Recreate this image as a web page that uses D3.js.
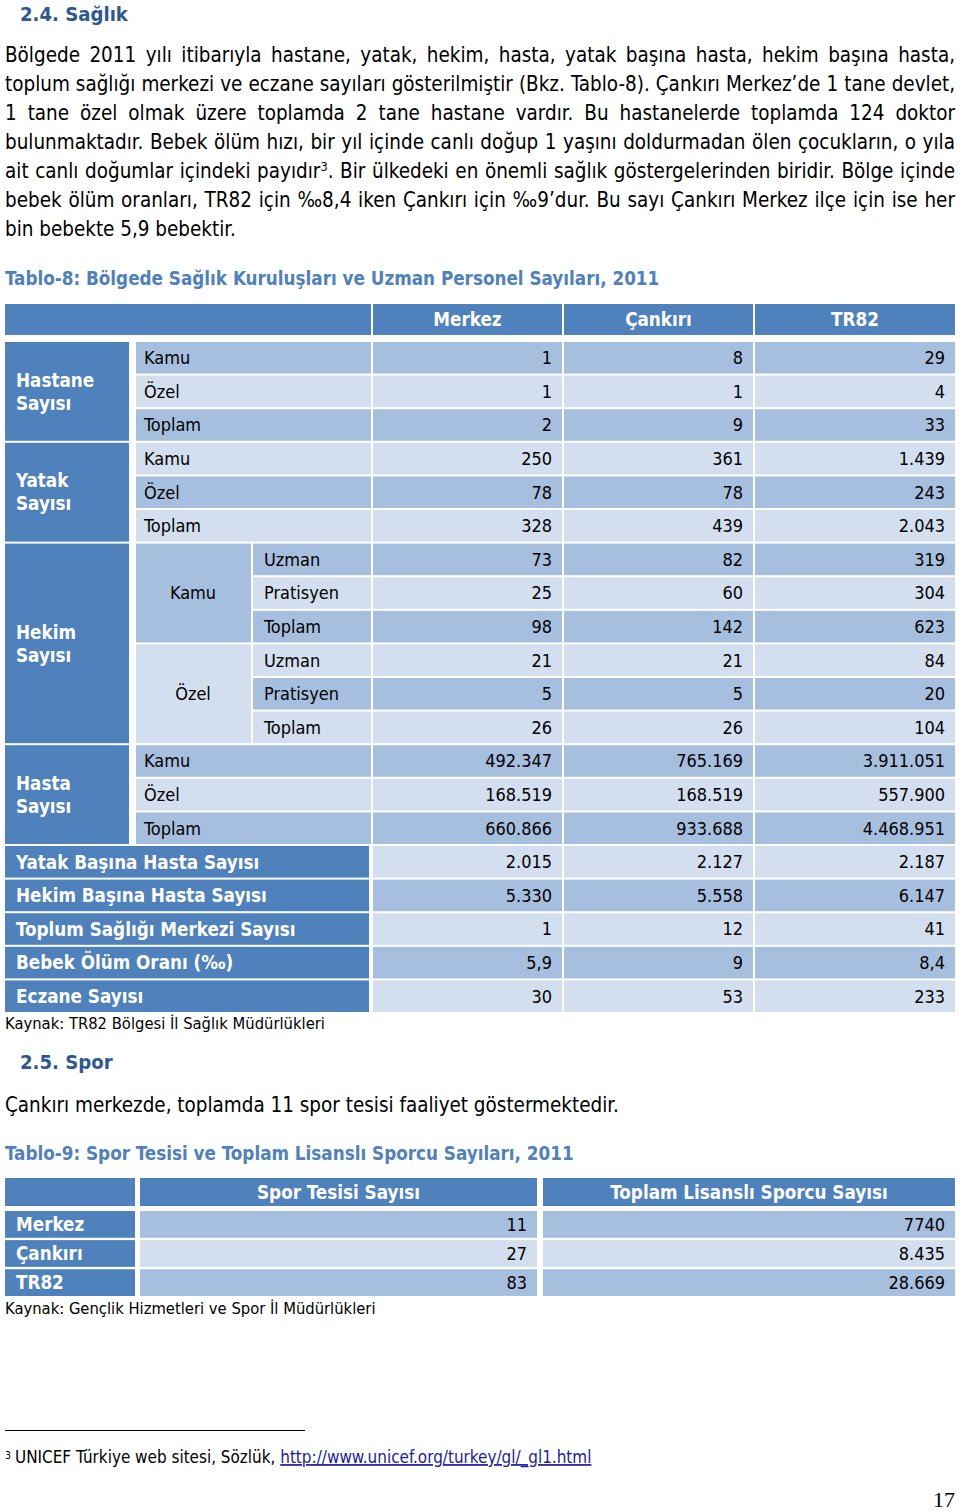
<!DOCTYPE html>
<html>
<head>
<meta charset="utf-8">
<script src="https://cdn.jsdelivr.net/npm/d3@7"></script>
<style>
    body { margin: 0; background: #fff; }
    svg { display: block; }
</style>
</head>
<body>
<script>
// ---- texts ----
const headingSaglik = "2.4. Sağlık";
const paragraphLines = [
    "Bölgede 2011 yılı itibarıyla hastane, yatak, hekim, hasta, yatak başına hasta, hekim başına hasta,",
    "toplum sağlığı merkezi ve eczane sayıları gösterilmiştir (Bkz. Tablo-8). Çankırı Merkez’de 1 tane devlet,",
    "1 tane özel olmak üzere toplamda 2 tane hastane vardır. Bu hastanelerde toplamda 124 doktor",
    "bulunmaktadır. Bebek ölüm hızı, bir yıl içinde canlı doğup 1 yaşını doldurmadan ölen çocukların, o yıla",
    "ait canlı doğumlar içindeki payıdır|3|. Bir ülkedeki en önemli sağlık göstergelerinden biridir. Bölge içinde",
    "bebek ölüm oranları, TR82 için ‰8,4 iken Çankırı için ‰9’dur. Bu sayı Çankırı Merkez ilçe için ise her",
    "bin bebekte 5,9 bebektir."
];
const tablo8Caption = "Tablo-8: Bölgede Sağlık Kuruluşları ve Uzman Personel Sayıları, 2011";
const tablo8Source = "Kaynak: TR82 Bölgesi İl Sağlık Müdürlükleri";
const headingSpor = "2.5. Spor";
const sporSentence = "Çankırı merkezde, toplamda 11 spor tesisi faaliyet göstermektedir.";
const tablo9Caption = "Tablo-9: Spor Tesisi ve Toplam Lisanslı Sporcu Sayıları, 2011";
const tablo9Source = "Kaynak: Gençlik Hizmetleri ve Spor İl Müdürlükleri";
const footnoteText = "UNICEF Türkiye web sitesi, Sözlük, ";
const footnoteLink = "http://www.unicef.org/turkey/gl/_gl1.html";
const pageNumber = "17";

// ---- Tablo-8 data ----
const tablo8Columns = ["Merkez", "Çankırı", "TR82"];
const tablo8RowLabels = [
    "Kamu", "Özel", "Toplam",
    "Kamu", "Özel", "Toplam",
    "Uzman", "Pratisyen", "Toplam", "Uzman", "Pratisyen", "Toplam",
    "Kamu", "Özel", "Toplam",
    "Yatak Başına Hasta Sayısı", "Hekim Başına Hasta Sayısı", "Toplum Sağlığı Merkezi Sayısı",
    "Bebek Ölüm Oranı (‰)", "Eczane Sayısı"
];
const merkezValues = ["1", "1", "2", "250", "78", "328", "73", "25", "98", "21", "5", "26",
    "492.347", "168.519", "660.866", "2.015", "5.330", "1", "5,9", "30"];
const cankiriValues = ["8", "1", "9", "361", "78", "439", "82", "60", "142", "21", "5", "26",
    "765.169", "168.519", "933.688", "2.127", "5.558", "12", "9", "53"];
const tr82Values = ["29", "4", "33", "1.439", "243", "2.043", "319", "304", "623", "84", "20", "104",
    "3.911.051", "557.900", "4.468.951", "2.187", "6.147", "41", "8,4", "233"];
const tablo8Groups = [
    {name: ["Hastane", "Sayısı"], first: 0, last: 2},
    {name: ["Yatak", "Sayısı"], first: 3, last: 5},
    {name: ["Hekim", "Sayısı"], first: 6, last: 11},
    {name: ["Hasta", "Sayısı"], first: 12, last: 14}
];
const hekimSubGroups = [
    {name: "Kamu", first: 6, last: 8},
    {name: "Özel", first: 9, last: 11}
];

// ---- Tablo-9 data ----
const sporRows = ["Merkez", "Çankırı", "TR82"];
const sporColumns = ["Spor Tesisi Sayısı", "Toplam Lisanslı Sporcu Sayısı"];
const sporTesisiValues = ["11", "27", "83"];
const lisansliSporcuValues = ["7740", "8.435", "28.669"];

// ---- style ----
const FONT = '"DejaVu Sans Condensed", "DejaVu Sans", sans-serif';
const HEAD_BLUE = "#4f81bd";
const DARK_ROW = "#a7bfde";
const LIGHT_ROW = "#d3dfee";
const TITLE_BLUE = "#2f5893";

const svg = d3.select("body").append("svg")
    .attr("width", 960)
    .attr("height", 1511)
    .style("font-family", FONT)
    .style("font-stretch", "condensed");

svg.append("rect").attr("width", 960).attr("height", 1511).attr("fill", "#fff");

// font size that makes a sample string reach the width
function sizeFor(sample, target, weight) {
    const t = svg.append("text")
        .attr("font-size", 100)
        .attr("font-weight", weight || "normal")
        .text(sample);
    const w = t.node().getComputedTextLength();
    t.remove();
    return 100 * target / w;
}

const bodySize = sizeFor(paragraphLines[6], 231);
const cellSize = sizeFor("Pratisyen", 75);
const boldCellSize = sizeFor("Toplum Sağlığı Merkezi Sayısı", 280, "bold");
const captionSize = sizeFor(tablo8Caption, 655, "bold");
const headingSize = sizeFor(headingSaglik, 108, "bold");
const sourceSize = sizeFor(tablo8Source, 320);
const footSize = sizeFor(footnoteText + footnoteLink, 577);

const base = (cy, fs) => cy + 0.36 * fs;

// ---- heading + paragraph ----
svg.append("text")
    .attr("x", 20).attr("y", 21)
    .attr("font-size", headingSize).attr("font-weight", "bold")
    .attr("fill", TITLE_BLUE)
    .text(headingSaglik);

paragraphLines.forEach((line, i) => {
    const t = svg.append("text")
        .attr("x", 5)
        .attr("y", base(55 + i * 29, bodySize))
        .attr("font-size", bodySize)
        .attr("fill", "#000");
    const parts = line.split("|");
    if (parts.length === 3) {
        t.append("tspan").text(parts[0]);
        t.append("tspan").attr("dy", -7).attr("font-size", bodySize * 0.62).text(parts[1]);
        t.append("tspan").attr("dy", 7).text(parts[2]);
    } else {
        t.text(line);
    }
    // justify every line but the last one
    if (i < paragraphLines.length - 1) {
        const w = t.node().getComputedTextLength();
        const spaces = line.split(" ").length - 1;
        t.attr("word-spacing", (950 - w) / spaces);
    }
});

// ---- Tablo-8 ----
svg.append("text")
    .attr("x", 5).attr("y", base(278, captionSize))
    .attr("font-size", captionSize).attr("font-weight", "bold")
    .attr("fill", HEAD_BLUE)
    .text(tablo8Caption);

const rowBand = d3.scaleBand()
    .domain(d3.range(tablo8RowLabels.length))
    .range([342, 1012])
    .paddingInner(0.06);
const rowTop = i => rowBand(i);
const rowBottom = i => rowBand(i) + rowBand.bandwidth();
const rowFill = i => (i % 2 === 0 ? DARK_ROW : LIGHT_ROW);

const valueCols = [[373, 562], [564, 753], [755, 955]];
const seriesValues = [merkezValues, cankiriValues, tr82Values];

const t8 = svg.append("g").attr("class", "tablo8");

function cell(g, x0, x1, y0, y1, fill) {
    g.append("rect")
        .attr("x", x0).attr("y", y0)
        .attr("width", x1 - x0).attr("height", y1 - y0)
        .attr("fill", fill);
}

// header
cell(t8, 5, 371, 304, 335, HEAD_BLUE);
tablo8Columns.forEach((c, j) => {
    const [x0, x1] = valueCols[j];
    cell(t8, x0, x1, 304, 335, HEAD_BLUE);
    t8.append("text")
        .attr("x", (x0 + x1) / 2).attr("y", base(319.5, boldCellSize))
        .attr("text-anchor", "middle")
        .attr("font-size", boldCellSize).attr("font-weight", "bold")
        .attr("fill", "#fff")
        .text(c);
});

tablo8RowLabels.forEach((label, i) => {
    const y0 = rowTop(i), y1 = rowBottom(i), cy = (y0 + y1) / 2;
    // values
    seriesValues.forEach((vals, j) => {
        const [x0, x1] = valueCols[j];
        cell(t8, x0, x1, y0, y1, rowFill(i));
        t8.append("text")
            .attr("x", x1 - 10).attr("y", base(cy, cellSize))
            .attr("text-anchor", "end")
            .attr("font-size", cellSize)
            .text(vals[i]);
    });
    if (i >= 15) {
        cell(t8, 5, 369, y0, y1, HEAD_BLUE);
        t8.append("text")
            .attr("x", 16).attr("y", base(cy, boldCellSize))
            .attr("font-size", boldCellSize).attr("font-weight", "bold")
            .attr("fill", "#fff")
            .text(label);
        return;
    }
    const inHekim = i >= 6 && i <= 11;
    const x0 = inHekim ? 253 : 136;
    cell(t8, x0, 371, y0, y1, rowFill(i));
    t8.append("text")
        .attr("x", x0 + (inHekim ? 11 : 8)).attr("y", base(cy, cellSize))
        .attr("font-size", cellSize)
        .text(label);
});

hekimSubGroups.forEach(s => {
    const y0 = rowTop(s.first), y1 = rowBottom(s.last);
    cell(t8, 136, 251, y0, y1, rowFill(s.first));
    t8.append("text")
        .attr("x", 193).attr("y", base((y0 + y1) / 2, cellSize))
        .attr("text-anchor", "middle")
        .attr("font-size", cellSize)
        .text(s.name);
});

tablo8Groups.forEach(g => {
    const y0 = rowTop(g.first), y1 = rowBottom(g.last), cy = (y0 + y1) / 2;
    cell(t8, 5, 129, y0, y1, HEAD_BLUE);
    g.name.forEach((n, k) => {
        t8.append("text")
            .attr("x", 16).attr("y", base(cy + (k === 0 ? -11.5 : 11.5), boldCellSize))
            .attr("font-size", boldCellSize).attr("font-weight", "bold")
            .attr("fill", "#fff")
            .text(n);
    });
});

svg.append("text")
    .attr("x", 5).attr("y", base(1023, sourceSize))
    .attr("font-size", sourceSize)
    .text(tablo8Source);

// ---- 2.5 Spor ----
svg.append("text")
    .attr("x", 20).attr("y", base(1062, headingSize))
    .attr("font-size", headingSize).attr("font-weight", "bold")
    .attr("fill", TITLE_BLUE)
    .text(headingSpor);

svg.append("text")
    .attr("x", 5).attr("y", base(1105, bodySize))
    .attr("font-size", bodySize)
    .text(sporSentence);

svg.append("text")
    .attr("x", 5).attr("y", base(1153, captionSize))
    .attr("font-size", captionSize).attr("font-weight", "bold")
    .attr("fill", HEAD_BLUE)
    .text(tablo9Caption);

const t9 = svg.append("g").attr("class", "tablo9");
const sporBand = d3.scaleBand()
    .domain(sporRows)
    .range([1211, 1296])
    .paddingInner(0.08);
const sporCols = [[140, 537], [543, 955]];
const sporSeries = [sporTesisiValues, lisansliSporcuValues];

cell(t9, 5, 135, 1178, 1206, HEAD_BLUE);
sporColumns.forEach((c, j) => {
    const [x0, x1] = sporCols[j];
    cell(t9, x0, x1, 1178, 1206, HEAD_BLUE);
    t9.append("text")
        .attr("x", (x0 + x1) / 2).attr("y", base(1192, boldCellSize))
        .attr("text-anchor", "middle")
        .attr("font-size", boldCellSize).attr("font-weight", "bold")
        .attr("fill", "#fff")
        .text(c);
});

sporRows.forEach((r, i) => {
    const y0 = sporBand(r), y1 = y0 + sporBand.bandwidth(), cy = (y0 + y1) / 2;
    cell(t9, 5, 135, y0, y1, HEAD_BLUE);
    t9.append("text")
        .attr("x", 16).attr("y", base(cy, boldCellSize))
        .attr("font-size", boldCellSize).attr("font-weight", "bold")
        .attr("fill", "#fff")
        .text(r);
    sporSeries.forEach((vals, j) => {
        const [x0, x1] = sporCols[j];
        cell(t9, x0, x1, y0, y1, rowFill(i));
        t9.append("text")
            .attr("x", x1 - 10).attr("y", base(cy, cellSize))
            .attr("text-anchor", "end")
            .attr("font-size", cellSize)
            .text(vals[i]);
    });
});

svg.append("text")
    .attr("x", 5).attr("y", base(1308, sourceSize))
    .attr("font-size", sourceSize)
    .text(tablo9Source);

// ---- footnote ----
svg.append("line")
    .attr("x1", 5).attr("x2", 305)
    .attr("y1", 1430.5).attr("y2", 1430.5)
    .attr("stroke", "#000").attr("stroke-width", 1);

svg.append("text")
    .attr("x", 5).attr("y", base(1453, footSize))
    .attr("font-size", footSize * 0.62)
    .text("3");

const foot = svg.append("text")
    .attr("x", 15).attr("y", base(1457, footSize))
    .attr("font-size", footSize);
foot.append("tspan").text(footnoteText);
foot.append("tspan")
    .attr("fill", "#1a1aa6")
    .attr("text-decoration", "underline")
    .text(footnoteLink);

svg.append("text")
    .attr("x", 955).attr("y", 1507)
    .attr("text-anchor", "end")
    .attr("font-family", '"Liberation Serif", "DejaVu Serif", serif')
    .attr("font-size", 22)
    .text(pageNumber);
</script>
</body>
</html>
